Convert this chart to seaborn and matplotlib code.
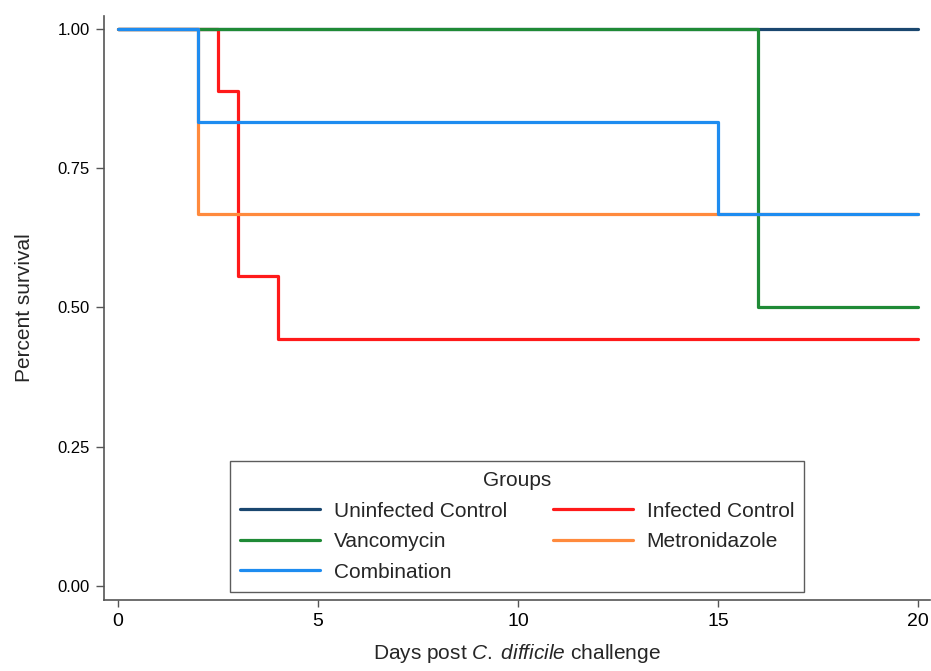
import seaborn as sns
import matplotlib.pyplot as plt
import pandas as pd
from matplotlib.lines import Line2D

# survival curves (day, fraction surviving)
groups = ["Uninfected Control", "Infected Control", "Vancomycin", "Metronidazole", "Combination"]
uninfected_days = [0, 20]
uninfected_surv = [1.0, 1.0]
infected_days = [0, 2.5, 3, 4, 20]
infected_surv = [1.0, 0.889, 0.556, 0.444, 0.444]
vanco_days = [0, 16, 20]
vanco_surv = [1.0, 0.5, 0.5]
metro_days = [0, 2, 20]
metro_surv = [1.0, 0.667, 0.667]
combo_days = [0, 2, 15, 20]
combo_surv = [1.0, 0.833, 0.667, 0.667]

colors = ["#1a476f", "#ff1a1a", "#1f8a36", "#ff8a3d", "#1e8cf0"]
y_ticks = [0.00, 0.25, 0.50, 0.75, 1.00]
x_ticks = [0, 5, 10, 15, 20]

frames = []
for g, d, s in zip(groups,
                   [uninfected_days, infected_days, vanco_days, metro_days, combo_days],
                   [uninfected_surv, infected_surv, vanco_surv, metro_surv, combo_surv]):
    frames.append(pd.DataFrame({"day": d, "survival": s, "group": g}))
df = pd.concat(frames, ignore_index=True)

sns.set_style("ticks")
plt.rcParams["font.family"] = ["Liberation Sans", "DejaVu Sans"]
plt.rcParams["mathtext.fontset"] = "custom"
plt.rcParams["mathtext.rm"] = "Liberation Sans"
plt.rcParams["mathtext.it"] = "Liberation Sans:italic"

fig = plt.figure(figsize=(9.31, 6.71), dpi=100)
ax = fig.add_axes([104 / 931, 1 - 600 / 671, (930 - 104) / 931, (600 - 16) / 671])

palette = dict(zip(groups, colors))
sns.lineplot(ax=ax, data=df, x="day", y="survival", hue="group", hue_order=groups,
             palette=palette, drawstyle="steps-post", estimator=None, linewidth=2.3)

ax.set_xlim(-0.35, 20.3)
ax.set_ylim(-0.025, 1.023)
ax.set_xticks(x_ticks)
ax.set_xticklabels([str(t) for t in x_ticks], fontsize=14)
ax.set_yticks(y_ticks)
ax.set_yticklabels(["%.2f" % t for t in y_ticks], fontsize=12)

sns.despine(ax=ax)
for side in ["left", "bottom"]:
    ax.spines[side].set_color("#555555")
    ax.spines[side].set_linewidth(1.2)
ax.tick_params(axis="y", length=6, width=1, color="#555555", pad=4, labelcolor="black")
ax.tick_params(axis="x", length=5, width=1, color="#555555", pad=4, labelcolor="black")

ax.set_ylabel("Percent survival", fontsize=15, labelpad=17)
ax.set_xlabel(r"Days post $\mathit{C.\;difficile}$ challenge", fontsize=15, labelpad=9)

# legend in Stata row order (matplotlib fills columns first)
handles = [Line2D([], [], color=palette[g], linewidth=2.3) for g in groups]
order = [0, 2, 4, 1, 3]
ax.get_legend().remove()
leg = ax.legend([handles[i] for i in order], [groups[i] for i in order],
                title="Groups", ncol=2, loc="lower center",
                bbox_to_anchor=(0.5, 0.0137), borderaxespad=0,
                fontsize=15, title_fontsize=15,
                handlelength=3.85, handletextpad=0.65, columnspacing=2.2,
                labelspacing=0.55, borderpad=0.5, fancybox=False, frameon=True)
leg.get_frame().set_edgecolor("#333333")
leg.get_frame().set_linewidth(1.0)

fig.savefig("out.png", dpi=100)
